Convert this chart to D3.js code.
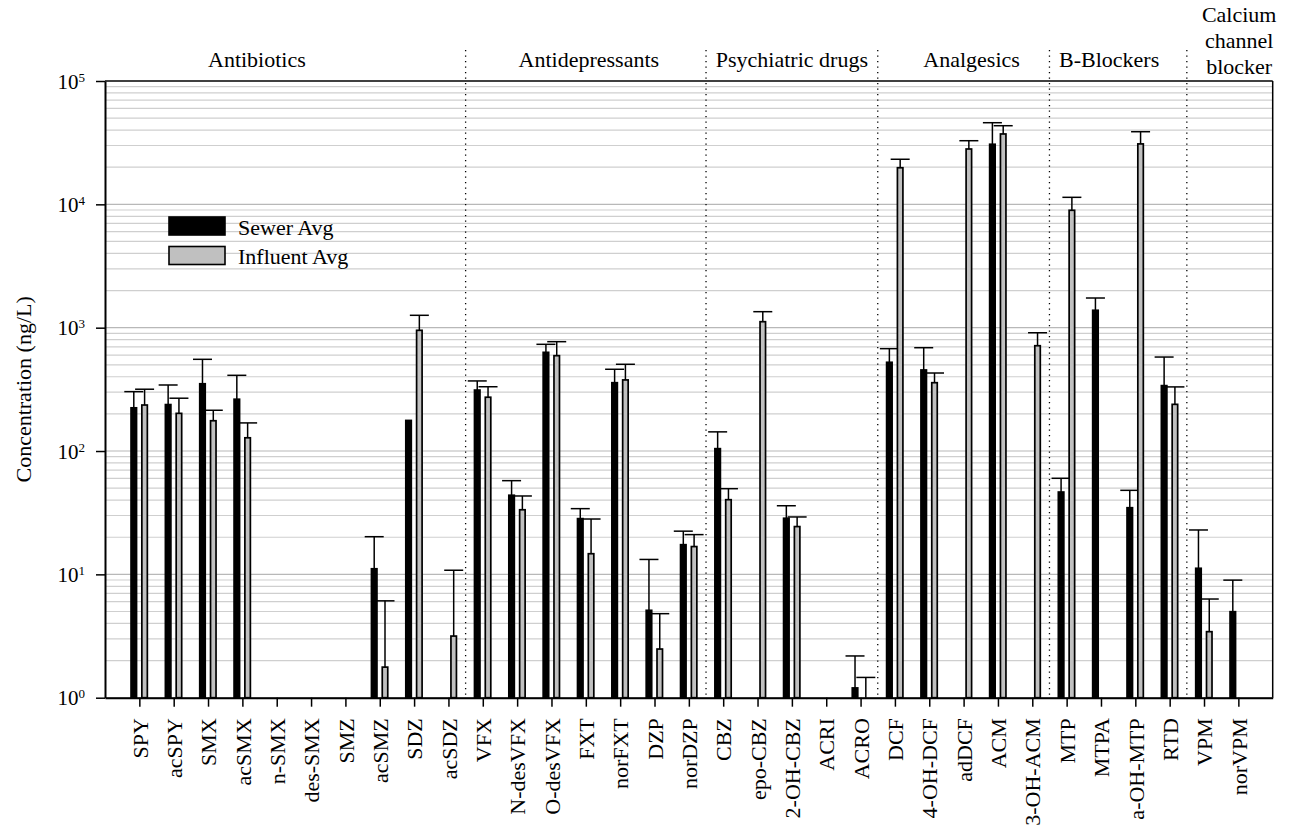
<!DOCTYPE html>
<html>
<head>
<meta charset="utf-8">
<title>Concentration</title>
<script src="https://d3js.org/d3.v7.min.js"></script>
<style>
body {
	margin: 0;
	background: #fff;
}
text {
	font-family: "Liberation Serif", "Times New Roman", serif;
	fill: #000;
}
</style>
</head>
<body>
<svg width="1295" height="828" id="chart"></svg>
<script>
var categories = ["SPY", "acSPY", "SMX", "acSMX", "n-SMX", "des-SMX", "SMZ", "acSMZ", "SDZ", "acSDZ",
	"VFX", "N-desVFX", "O-desVFX", "FXT", "norFXT", "DZP", "norDZP",
	"CBZ", "epo-CBZ", "2-OH-CBZ", "ACRI", "ACRO",
	"DCF", "4-OH-DCF", "adDCF", "ACM", "3-OH-ACM",
	"MTP", "MTPA", "a-OH-MTP", "RTD",
	"VPM", "norVPM"];

// averages (ng/L), null = not detected
var sewerAvg = [224, 238, 351, 263, null, null, null, 11.1, 177, null,
	312, 43.8, 631, 28.3, 358, 5.11, 17.4,
	104.5, null, 28.5, null, 1.2,
	524, 454, null, 30700, null,
	46.5, 1384, 34.7, 339,
	11.2, 4.98];
var sewerSd = [79, 105, 203, 148, null, null, null, 9.1, null, null,
	58, 13.7, 102, 5.8, 102, 8.1, 5.0,
	38.5, null, 7.5, null, 0.98,
	152, 234, null, 15200, null,
	13.6, 356, 13.3, 239,
	11.7, 4.0];
var influentAvg = [236, 202, 176, 128, null, null, null, 1.77, 952, 3.16,
	273, 33.4, 593, 14.7, 377, 2.48, 16.8,
	40.3, 1118, 24.4, null, 1.0,
	19800, 358, 28100, 37200, 714,
	8950, null, 30900, 239,
	3.43, null];
var influentSd = [81, 66, 38, 41, null, null, null, 4.33, 308, 7.64,
	59, 9.8, 177, 13.4, 128, 2.32, 4.2,
	9.2, 230, 4.8, null, 0.46,
	3400, 71, 4700, 6200, 196,
	2450, null, 7900, 92,
	2.88, null];

var groupNames = [["Antibiotics"], ["Antidepressants"], ["Psychiatric drugs"], ["Analgesics"], ["B-Blockers"], ["Calcium", "channel", "blocker"]];
var groupSizes = [10, 7, 5, 5, 4, 2];
var yTicks = [1, 10, 100, 1000, 10000, 100000];

var seriesNames = ["Sewer Avg", "Influent Avg"];

var svg = d3.select("#chart");
var pLeft = 105, pRight = 1272.7, pTop = 81, pBottom = 697.7;

var x = d3.scalePoint().domain(categories).range([pLeft, pRight]).padding(1);
var y = d3.scaleLog().domain([1, 100000]).range([pBottom, pTop]);

// grid lines, every 1..9 of each decade
var grid = [];
for (var k = 0; k < 5; k++) {
	for (var m = 1; m < 10; m++) {
		grid.push(m * Math.pow(10, k));
	}
}
svg.append("g").selectAll("line").data(grid).enter().append("line")
	.attr("x1", pLeft).attr("x2", pRight)
	.attr("y1", function(d) { return y(d); })
	.attr("y2", function(d) { return y(d); })
	.attr("stroke", function(d) { return yTicks.indexOf(d) >= 0 ? "#b8b8b8" : "#cfcfcf"; })
	.attr("stroke-width", 1.2);

// dotted group separators
var starts = [];
var acc = 0;
groupSizes.forEach(function(n) { starts.push(acc); acc += n; });
var seps = starts.slice(1).map(function(s) {
	return (x(categories[s - 1]) + x(categories[s])) / 2;
});
svg.append("g").selectAll("line").data(seps).enter().append("line")
	.attr("x1", function(d) { return d; }).attr("x2", function(d) { return d; })
	.attr("y1", 50).attr("y2", pBottom)
	.attr("stroke", "#000").attr("stroke-width", 1.3)
	.attr("stroke-dasharray", "1.3,4.2");

// group labels
var labelShift = [-37, 3, 0, 8, -9, 18];
groupNames.forEach(function(lines, i) {
	var a = x(categories[starts[i]]), b = x(categories[starts[i] + groupSizes[i] - 1]);
	var cx = (a + b) / 2 + labelShift[i];
	var base = lines.length > 1 ? 22 : 67;
	lines.forEach(function(t, j) {
		svg.append("text").attr("x", cx).attr("y", base + j * 26)
			.attr("text-anchor", "middle").style("font-size", "22px").text(t);
	});
});

// bars
var barW = 5.5, off = 8.3;
var series = [
	{ avg: sewerAvg, sd: sewerSd, fill: "#000", dx: -off },
	{ avg: influentAvg, sd: influentSd, fill: "#c0c0c0", dx: 2.5 }
];
series.forEach(function(s) {
	var rows = categories.map(function(c, i) {
		return { cat: c, v: s.avg[i], sd: s.sd[i] };
	}).filter(function(d) { return d.v != null; });

	var g = svg.append("g");
	g.selectAll("rect").data(rows).enter().append("rect")
		.attr("x", function(d) { return x(d.cat) + s.dx; })
		.attr("y", function(d) { return y(d.v); })
		.attr("width", barW)
		.attr("height", function(d) { return pBottom - y(d.v); })
		.attr("fill", s.fill).attr("stroke", "#000").attr("stroke-width", 1.7);

	var eb = rows.filter(function(d) { return d.sd != null; });
	g.selectAll("line.v").data(eb).enter().append("line").attr("class", "v")
		.attr("x1", function(d) { return x(d.cat) + s.dx + barW / 2; })
		.attr("x2", function(d) { return x(d.cat) + s.dx + barW / 2; })
		.attr("y1", function(d) { return y(d.v); })
		.attr("y2", function(d) { return y(d.v + d.sd); })
		.attr("stroke", "#000").attr("stroke-width", 1.5);
	g.selectAll("line.c").data(eb).enter().append("line").attr("class", "c")
		.attr("x1", function(d) { return x(d.cat) + s.dx + barW / 2 - 9.5; })
		.attr("x2", function(d) { return x(d.cat) + s.dx + barW / 2 + 9.5; })
		.attr("y1", function(d) { return y(d.v + d.sd); })
		.attr("y2", function(d) { return y(d.v + d.sd); })
		.attr("stroke", "#000").attr("stroke-width", 1.5);
});

// frame: top and right
svg.append("line").attr("x1", pLeft).attr("x2", pRight).attr("y1", pTop).attr("y2", pTop)
	.attr("stroke", "#000").attr("stroke-width", 1.5);
svg.append("line").attr("x1", pRight).attr("x2", pRight).attr("y1", pTop).attr("y2", pBottom)
	.attr("stroke", "#000").attr("stroke-width", 1.5);

// x axis
var xa = svg.append("g").attr("transform", "translate(0," + pBottom + ")")
	.call(d3.axisBottom(x).tickSize(9).tickSizeOuter(0));
xa.select(".domain").attr("stroke-width", 2);
xa.selectAll(".tick line").attr("stroke-width", 1.5);
xa.selectAll("text")
	.attr("font-family", null)
	.style("font-size", "22px")
	.attr("transform", "rotate(-90)")
	.attr("x", -20.5).attr("y", 0).attr("dy", "0.35em")
	.style("text-anchor", "end");

// y axis
var ya = svg.append("g").attr("transform", "translate(" + pLeft + ",0)")
	.call(d3.axisLeft(y).tickValues(yTicks).tickSize(9).tickSizeOuter(0).tickFormat(""));
ya.select(".domain").attr("stroke-width", 2);
ya.selectAll(".tick line").attr("stroke-width", 1.5);
yTicks.forEach(function(t) {
	var txt = svg.append("text").attr("x", 85).attr("y", y(t) + 7.5)
		.attr("text-anchor", "end").style("font-size", "21px");
	txt.append("tspan").text("10");
	txt.append("tspan").attr("dy", -7).style("font-size", "13px").text(String(Math.round(Math.log10(t))));
});

svg.append("text").attr("transform", "translate(31," + ((pTop + pBottom) / 2) + ") rotate(-90)")
	.attr("text-anchor", "middle").style("font-size", "22px")
	.text("Concentration (ng/L)");

// legend
var lg = svg.append("g").attr("transform", "translate(169,217)");
seriesNames.forEach(function(n, i) {
	lg.append("rect").attr("x", 0).attr("y", i * 29.5).attr("width", 56).attr("height", 18)
		.attr("fill", series[i].fill).attr("stroke", "#000").attr("stroke-width", 1.6);
	lg.append("text").attr("x", 69).attr("y", i * 29.5 + 17.5)
		.style("font-size", "22px").text(n);
});
</script>
</body>
</html>
